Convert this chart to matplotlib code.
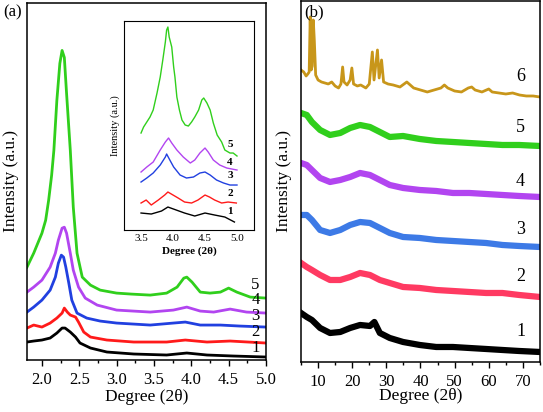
import numpy as np
import matplotlib
matplotlib.use("Agg")
import matplotlib.pyplot as plt
from matplotlib.ticker import MultipleLocator

# ---- panel (a): low-angle XRD, samples 1-5 ----
a5_x = [1.80, 1.89, 2.00, 2.05, 2.09, 2.13, 2.16, 2.20, 2.24, 2.27, 2.30, 2.33, 2.38, 2.42, 2.47,
        2.54, 2.65, 2.78, 3.00, 3.20, 3.45, 3.67, 3.81, 3.90, 3.94, 4.01, 4.12, 4.25, 4.39, 4.50,
        4.61, 4.79, 5.00]
a5_y = [93, 107, 127, 140, 160, 185, 210, 260, 297, 310, 303, 267, 210, 153, 107,
        83, 75, 70, 67, 66, 65, 67, 73, 82, 83, 78, 68, 67, 68, 72,
        68, 63, 62]

a4_x = [1.80, 1.89, 2.00, 2.11, 2.18, 2.22, 2.27, 2.30, 2.33, 2.38, 2.42, 2.49, 2.58, 2.74, 3.00,
        3.45, 3.76, 3.94, 4.12, 4.30, 4.52, 4.74, 5.00]
a4_y = [68, 73, 80, 93, 107, 120, 132, 133, 127, 107, 90, 73, 62, 55, 50,
        48, 50, 53, 49, 48, 51, 48, 47]

a3_x = [1.80, 1.89, 2.00, 2.11, 2.18, 2.22, 2.26, 2.29, 2.32, 2.36, 2.40, 2.47, 2.60, 2.78, 3.00,
        3.45, 3.76, 3.92, 4.12, 4.39, 4.65, 5.00]
a3_y = [48, 53, 60, 70, 83, 97, 105, 103, 93, 77, 60, 47, 42, 39, 37,
        35, 37, 38, 35, 35, 34, 33]

a2_x = [1.80, 1.89, 2.00, 2.11, 2.20, 2.27, 2.30, 2.34, 2.38, 2.45, 2.49, 2.56, 2.65, 2.87, 3.23,
        3.67, 3.92, 4.21, 4.52, 5.00]
a2_y = [32, 35, 33, 37, 42, 47, 52, 48, 45, 43, 38, 28, 23, 20, 18,
        18, 20, 18, 19, 17]

a1_x = [1.80, 1.89, 2.00, 2.11, 2.20, 2.27, 2.31, 2.38, 2.45, 2.51, 2.65, 2.87, 3.23, 3.67, 3.94,
        4.21, 4.56, 5.00]
a1_y = [18, 19, 20, 22, 27, 32, 32, 28, 23, 17, 12, 8, 6, 5, 7,
        5, 4, 3]

# ---- inset: 3.5-5.0 degree zoom ----
i5_x = [3.50, 3.54, 3.59, 3.64, 3.69, 3.75, 3.80, 3.84, 3.88, 3.90, 3.92, 3.94, 3.98, 4.01, 4.03,
        4.06, 4.10, 4.14, 4.19, 4.24, 4.29, 4.34, 4.40, 4.45, 4.48, 4.53, 4.58, 4.63, 4.69, 4.76,
        4.81, 4.89, 4.94, 5.00]
i5_y = [97, 103, 108, 113, 120, 137, 153, 170, 188, 200, 203, 193, 183, 163, 153,
        133, 120, 110, 105, 104, 108, 113, 120, 130, 132, 127, 120, 107, 95, 88,
        80, 77, 77, 74]
i4_x = [3.50, 3.59, 3.69, 3.80, 3.88, 3.93, 3.98, 4.06, 4.16, 4.27, 4.34, 4.42, 4.50, 4.55, 4.63,
        4.73, 4.84, 5.00]
i4_y = [58, 63, 68, 80, 88, 92, 87, 80, 73, 67, 70, 77, 82, 78, 70,
        65, 62, 60]
i3_x = [3.50, 3.59, 3.69, 3.80, 3.88, 3.90, 3.95, 4.01, 4.11, 4.21, 4.32, 4.42, 4.50, 4.58, 4.68,
        4.79, 4.89, 5.00]
i3_y = [48, 52, 57, 65, 73, 76, 70, 63, 55, 52, 53, 57, 58, 55, 50,
        47, 45, 45]
i2_x = [3.50, 3.58, 3.66, 3.77, 3.87, 3.92, 4.00, 4.08, 4.18, 4.29, 4.39, 4.50, 4.57, 4.65, 4.76,
        4.86, 4.99]
i2_y = [27, 30, 25, 30, 35, 38, 35, 32, 28, 27, 30, 35, 33, 30, 27,
        28, 27]
i1_x = [3.50, 3.66, 3.82, 3.92, 4.05, 4.18, 4.34, 4.50, 4.65, 4.81, 4.96]
i1_y = [17, 16, 19, 23, 20, 17, 14, 17, 15, 13, 8]

# ---- panel (b): wide-angle XRD, samples 1-6 ----
b_x = [5.0, 6.7, 8.2, 10.6, 13.5, 16.5, 19.4, 22.3, 25.2, 28.1, 31.0, 34.9, 39.8, 44.6, 49.5,
       54.3, 59.2, 64.0, 68.9, 75.0]
b5_y = [249, 247, 240, 232, 227, 229, 234, 237, 235, 230, 225, 226, 223, 221, 220,
        219, 218, 217, 217, 216]
b4_y = [199, 197, 192, 184, 180, 182, 185, 189, 187, 182, 177, 174, 172, 171, 169,
        169, 168, 167, 166, 165]
b3_y = [147, 147, 142, 132, 129, 132, 137, 140, 139, 134, 129, 125, 124, 122, 121,
        120, 119, 117, 116, 115]
b2_y = [99, 95, 92, 87, 82, 82, 85, 89, 87, 82, 79, 75, 74, 72, 71,
        70, 69, 69, 67, 65]
b1_x = [5.0, 6.7, 8.2, 10.6, 13.5, 16.5, 19.4, 22.3, 25.2, 26.5, 28.1, 31.0, 34.9, 39.8, 44.6,
        49.5, 54.3, 59.2, 64.0, 68.9, 75.0]
b1_y = [49, 45, 42, 34, 29, 30, 34, 37, 36, 40, 29, 24, 20, 17, 15,
        15, 14, 13, 12, 11, 10]

b6_x = [5.0, 5.8, 6.5, 7.0, 7.4, 7.7, 8.0, 8.3, 8.6, 8.9, 9.3, 10.0, 11.0, 12.0, 13.0, 14.0,
        15.0, 16.0, 16.7, 17.2, 17.6, 18.5, 19.4, 19.9, 20.4, 21.5, 22.5, 24.0, 25.0, 25.9,
        26.4, 27.4, 27.9, 28.6, 29.2, 30.5, 32, 34, 36, 37, 38, 40, 42, 44, 46, 47, 48, 50,
        52, 54, 55, 56, 58, 60, 61, 63, 65, 67, 69, 71, 73, 75]
b6_y = [292, 290, 286, 288, 290, 345, 292, 296, 342, 322, 287, 282, 280, 279, 278, 280,
        276, 274, 278, 295, 280, 277, 282, 294, 278, 276, 277, 274, 278, 310,
        282, 312, 284, 302, 280, 278, 277, 275, 280, 277, 274, 272, 270, 272, 274, 277, 274, 271,
        270, 274, 275, 272, 270, 273, 270, 269, 268, 269, 267, 266, 266, 265]

green = '#30cf1c'
purple = '#b245f0'
blue_a = '#2140e0'
blue_b = '#3d7ae6'
red_a = '#ff1a1a'
red_b = '#ff3a62'
gold = '#c8961a'

plt.rcParams['font.family'] = ['Liberation Serif', 'DejaVu Serif']
plt.rcParams['axes.linewidth'] = 1.1

fig = plt.figure(figsize=(5.43, 4.12), dpi=100)
ax1 = fig.add_axes([0.0497, 0.1262, 0.4401, 0.8677])
ax2 = fig.add_axes([0.5543, 0.1214, 0.4401, 0.8762])
ins = fig.add_axes([0.2284, 0.4417, 0.2394, 0.5073])

# panel (a)
for xs, ys, c in [(a1_x, a1_y, 'black'), (a2_x, a2_y, red_a), (a3_x, a3_y, blue_a),
                  (a4_x, a4_y, purple), (a5_x, a5_y, green)]:
    ax1.plot(xs, ys, color=c, lw=2.0)
ax1.set_xlim(1.8, 5.0)
ax1.set_ylim(0, 358)
for lab, y in zip(['1', '2', '3', '4', '5'], [12, 28, 44, 60, 75]):
    ax1.text(4.86, y, lab, fontsize=12, ha='center', va='center')
ax1.xaxis.set_major_locator(MultipleLocator(0.5))
ax1.xaxis.set_minor_locator(MultipleLocator(0.25))
ax1.set_xlabel('Degree (2θ)', fontsize=12.5, labelpad=1)
ax1.set_ylabel('Intensity (a.u.)', fontsize=12.5)
ax1.yaxis.set_label_coords(-0.033, 0.5)

# inset
for xs, ys, c in [(i1_x, i1_y, 'black'), (i2_x, i2_y, red_a), (i3_x, i3_y, blue_a),
                  (i4_x, i4_y, purple), (i5_x, i5_y, green)]:
    ins.plot(xs, ys, color=c, lw=1.0)
ins.set_xlim(3.234, 5.266)
ins.set_ylim(0, 209)
for lab, y in zip(['1', '2', '3', '4', '5'], [19, 37, 55, 68, 86]):
    ins.text(4.89, y, lab, fontsize=8, fontweight='bold', ha='center', va='center')
ins.set_xticks([3.5, 4.0, 4.5, 5.0])
ins.set_yticks([])
ins.tick_params(axis='x', length=0, labelsize=8, pad=3)
ins.set_xlabel('Degree (2θ)', fontsize=8, fontweight='bold', labelpad=2)
ins.set_ylabel('Intensity (a.u.)', fontsize=7.5, labelpad=3)
for s in ins.spines.values():
    s.set_linewidth(0.8)

# panel (b)
for xs, ys, c in [(b1_x, b1_y, 'black'), (b_x, b2_y, red_b), (b_x, b3_y, blue_b),
                  (b_x, b4_y, purple), (b_x, b5_y, green)]:
    ax2.plot(xs, ys, color=c, lw=4.5)
ax2.plot(b6_x, b6_y, color=gold, lw=2.0)
ax2.set_xlim(5, 75)
ax2.set_ylim(0, 361)
for lab, y in zip(['1', '2', '3', '4', '5', '6'], [30, 85, 132, 180, 234, 285]):
    ax2.text(69.3, y, lab, fontsize=13, ha='center', va='center')
ax2.xaxis.set_major_locator(MultipleLocator(10))
ax2.xaxis.set_minor_locator(MultipleLocator(5))
ax2.set_xlabel('Degree (2θ)', fontsize=12.5, labelpad=-1)
ax2.set_ylabel('Intensity (a.u.)', fontsize=12.5)
ax2.yaxis.set_label_coords(-0.038, 0.5)

for ax in (ax1, ax2):
    ax.set_yticks([])
    ax.tick_params(axis='x', which='major', direction='out', length=4.3, width=1.0,
                   labelsize=12, pad=4)
    ax.tick_params(axis='x', which='minor', direction='out', length=2.3, width=1.0)

fig.text(3 / 543, 1 - 12 / 412, '(a)', fontsize=12, va='center', ha='left')
fig.text(304 / 543, 1 - 12 / 412, '(b)', fontsize=12, va='center', ha='left')

fig.savefig('out.png', dpi=100)
